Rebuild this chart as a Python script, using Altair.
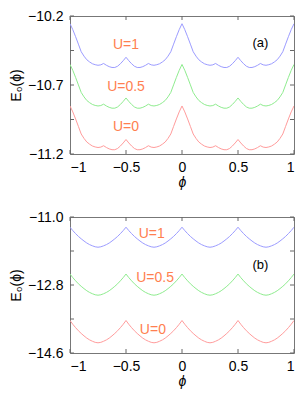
import altair as alt
import pandas as pd

# phi grid, step 0.025 from -1 to 1 (81 points)
phi = [round(-1 + 0.025 * i, 3) for i in range(81)]

# ---------- panel (a) values ----------
a_u1 = [-10.256, -10.299, -10.350, -10.404, -10.459, -10.491, -10.517, -10.533, -10.546, -10.553, -10.557,
        -10.554, -10.544, -10.557, -10.567, -10.573, -10.573, -10.564, -10.546, -10.524, -10.499,
        -10.524, -10.546, -10.564, -10.573, -10.573, -10.567, -10.557, -10.544, -10.554, -10.557,
        -10.553, -10.546, -10.533, -10.517, -10.491, -10.459, -10.404, -10.350, -10.299, -10.256,
        -10.299, -10.350, -10.404, -10.459, -10.491, -10.517, -10.533, -10.546, -10.553, -10.557,
        -10.554, -10.544, -10.557, -10.567, -10.573, -10.573, -10.564, -10.546, -10.524, -10.499,
        -10.524, -10.546, -10.564, -10.573, -10.573, -10.567, -10.557, -10.544, -10.554, -10.557,
        -10.553, -10.546, -10.533, -10.517, -10.491, -10.459, -10.404, -10.350, -10.299, -10.256]
a_u05 = [-10.551, -10.594, -10.645, -10.699, -10.754, -10.786, -10.812, -10.828, -10.841, -10.848, -10.852,
         -10.849, -10.839, -10.852, -10.862, -10.868, -10.868, -10.859, -10.841, -10.819, -10.794,
         -10.819, -10.841, -10.859, -10.868, -10.868, -10.862, -10.852, -10.839, -10.849, -10.852,
         -10.848, -10.841, -10.828, -10.812, -10.786, -10.754, -10.699, -10.645, -10.594, -10.551,
         -10.594, -10.645, -10.699, -10.754, -10.786, -10.812, -10.828, -10.841, -10.848, -10.852,
         -10.849, -10.839, -10.852, -10.862, -10.868, -10.868, -10.859, -10.841, -10.819, -10.794,
         -10.819, -10.841, -10.859, -10.868, -10.868, -10.862, -10.852, -10.839, -10.849, -10.852,
         -10.848, -10.841, -10.828, -10.812, -10.786, -10.754, -10.699, -10.645, -10.594, -10.551]
a_u0 = [-10.852, -10.895, -10.946, -11.000, -11.055, -11.087, -11.113, -11.129, -11.142, -11.149, -11.153,
        -11.150, -11.140, -11.153, -11.163, -11.169, -11.169, -11.160, -11.142, -11.120, -11.095,
        -11.120, -11.142, -11.160, -11.169, -11.169, -11.163, -11.153, -11.140, -11.150, -11.153,
        -11.149, -11.142, -11.129, -11.113, -11.087, -11.055, -11.000, -10.946, -10.895, -10.852,
        -10.895, -10.946, -11.000, -11.055, -11.087, -11.113, -11.129, -11.142, -11.149, -11.153,
        -11.150, -11.140, -11.153, -11.163, -11.169, -11.169, -11.160, -11.142, -11.120, -11.095,
        -11.120, -11.142, -11.160, -11.169, -11.169, -11.163, -11.153, -11.140, -11.150, -11.153,
        -11.149, -11.142, -11.129, -11.113, -11.087, -11.055, -11.000, -10.946, -10.895, -10.852]

# ---------- panel (b) values ----------
b_u1 = [-11.270, -11.360, -11.440, -11.514, -11.577, -11.636, -11.689, -11.731, -11.763, -11.789, -11.800,
        -11.789, -11.763, -11.731, -11.689, -11.636, -11.577, -11.514, -11.440, -11.360, -11.270,
        -11.360, -11.440, -11.514, -11.577, -11.636, -11.689, -11.731, -11.763, -11.789, -11.800,
        -11.789, -11.763, -11.731, -11.689, -11.636, -11.577, -11.514, -11.440, -11.360, -11.270,
        -11.360, -11.440, -11.514, -11.577, -11.636, -11.689, -11.731, -11.763, -11.789, -11.800,
        -11.789, -11.763, -11.731, -11.689, -11.636, -11.577, -11.514, -11.440, -11.360, -11.270,
        -11.360, -11.440, -11.514, -11.577, -11.636, -11.689, -11.731, -11.763, -11.789, -11.800,
        -11.789, -11.763, -11.731, -11.689, -11.636, -11.577, -11.514, -11.440, -11.360, -11.270]
b_u05 = [-12.510, -12.605, -12.689, -12.768, -12.835, -12.896, -12.952, -12.997, -13.031, -13.059, -13.070,
         -13.059, -13.031, -12.997, -12.952, -12.896, -12.835, -12.768, -12.689, -12.605, -12.510,
         -12.605, -12.689, -12.768, -12.835, -12.896, -12.952, -12.997, -13.031, -13.059, -13.070,
         -13.059, -13.031, -12.997, -12.952, -12.896, -12.835, -12.768, -12.689, -12.605, -12.510,
         -12.605, -12.689, -12.768, -12.835, -12.896, -12.952, -12.997, -13.031, -13.059, -13.070,
         -13.059, -13.031, -12.997, -12.952, -12.896, -12.835, -12.768, -12.689, -12.605, -12.510,
         -12.605, -12.689, -12.768, -12.835, -12.896, -12.952, -12.997, -13.031, -13.059, -13.070,
         -13.059, -13.031, -12.997, -12.952, -12.896, -12.835, -12.768, -12.689, -12.605, -12.510]
b_u0 = [-13.740, -13.840, -13.929, -14.011, -14.082, -14.147, -14.206, -14.253, -14.289, -14.318, -14.330,
        -14.318, -14.289, -14.253, -14.206, -14.147, -14.082, -14.011, -13.929, -13.840, -13.740,
        -13.840, -13.929, -14.011, -14.082, -14.147, -14.206, -14.253, -14.289, -14.318, -14.330,
        -14.318, -14.289, -14.253, -14.206, -14.147, -14.082, -14.011, -13.929, -13.840, -13.740,
        -13.840, -13.929, -14.011, -14.082, -14.147, -14.206, -14.253, -14.289, -14.318, -14.330,
        -14.318, -14.289, -14.253, -14.206, -14.147, -14.082, -14.011, -13.929, -13.840, -13.740,
        -13.840, -13.929, -14.011, -14.082, -14.147, -14.206, -14.253, -14.289, -14.318, -14.330,
        -14.318, -14.289, -14.253, -14.206, -14.147, -14.082, -14.011, -13.929, -13.840, -13.740]

series_names = ["U=1", "U=0.5", "U=0"]
series_colors = ["#9c9cff", "#8fec8f", "#ff9c9c"]

# curve labels and panel tags
a_label_text = ["U=1", "U=0.5", "U=0"]
a_label_x = [-0.5, -0.5, -0.5]
a_label_y = [-10.413, -10.714, -11.004]
b_label_text = ["U=1", "U=0.5", "U=0"]
b_label_x = [-0.27, -0.24, -0.26]
b_label_y = [-11.45, -12.614, -13.98]
a_tag = ["(a)"]
a_tag_x = [0.7]
a_tag_y = [-10.393]
b_tag = ["(b)"]
b_tag_x = [0.7]
b_tag_y = [-12.28]

x_ticks = [-1, -0.5, 0, 0.5, 1]
a_y_ticks = [-11.2, -10.95, -10.7, -10.45, -10.2]
a_y_labels = [-11.2, -10.7, -10.2]
b_y_ticks = [-14.6, -13.7, -12.8, -11.9, -11.0]
b_y_labels = [-14.6, -12.8, -11.0]

W, H_A, H_B = 224, 138, 136
FONT = "Liberation Sans"
LABEL_COLOR = "#ff7f50"
TICK = 4


def panel(values, y_dom, y_ticks, y_labels, lab_text, lab_x, lab_y, tag, tag_x, tag_y, height):
    rows = []
    for name, vals in zip(series_names, values):
        for p, v in zip(phi, vals):
            rows.append({"phi": p, "E": v, "series": name})
    df = pd.DataFrame(rows)

    xs = alt.Scale(domain=[-1, 1], nice=False, zero=False)
    ys = alt.Scale(domain=y_dom, nice=False, zero=False)

    lines = alt.Chart(df).mark_line(strokeWidth=1, clip=True).encode(
        x=alt.X("phi:Q", scale=xs, title="ϕ",
                axis=alt.Axis(values=x_ticks, ticks=False, domain=False, grid=False,
                              labelFont=FONT, labelFontSize=14, labelColor="#000",
                              labelPadding=6, titleFont=FONT, titleFontSize=14,
                              titleFontStyle="italic", titleFontWeight="normal",
                              titleColor="#000", titlePadding=1,
                              labelExpr="datum.value == 0 ? '0' : format(datum.value, '.1~f')")),
        y=alt.Y("E:Q", scale=ys, title="E₀(ϕ)",
                axis=alt.Axis(values=y_labels, ticks=False, domain=False, grid=False,
                              format=".1f", labelFont=FONT, labelFontSize=14,
                              labelColor="#000", labelPadding=7, titleFont=FONT,
                              titleFontSize=14, titleFontWeight="normal", titleColor="#000",
                              titleX=-50, titleY=height / 2, titleAngle=270,
                              titleAlign="center", titleBaseline="alphabetic")),
        color=alt.Color("series:N", scale=alt.Scale(domain=series_names, range=series_colors),
                        legend=None),
        detail="series:N",
    )

    ldf = pd.DataFrame({"t": lab_text, "x": lab_x, "y": lab_y})
    labels = alt.Chart(ldf).mark_text(font=FONT, fontSize=14, color=LABEL_COLOR,
                                      align="center", baseline="middle").encode(
        x=alt.X("x:Q", scale=xs), y=alt.Y("y:Q", scale=ys), text="t:N")

    tdf = pd.DataFrame({"t": tag, "x": tag_x, "y": tag_y})
    tags = alt.Chart(tdf).mark_text(font=FONT, fontSize=13, color="#000",
                                    align="center", baseline="middle").encode(
        x=alt.X("x:Q", scale=xs), y=alt.Y("y:Q", scale=ys), text="t:N")

    xt = pd.DataFrame({"v": x_ticks})
    yt = pd.DataFrame({"v": y_ticks})
    tick_style = dict(color="#666", strokeWidth=1)
    bottom = alt.Chart(xt).mark_rule(**tick_style).encode(
        x=alt.X("v:Q", scale=xs), y=alt.value(height), y2=alt.value(height - TICK))
    top = alt.Chart(xt).mark_rule(**tick_style).encode(
        x=alt.X("v:Q", scale=xs), y=alt.value(0), y2=alt.value(TICK))
    left = alt.Chart(yt).mark_rule(**tick_style).encode(
        y=alt.Y("v:Q", scale=ys), x=alt.value(0), x2=alt.value(TICK))
    right = alt.Chart(yt).mark_rule(**tick_style).encode(
        y=alt.Y("v:Q", scale=ys), x=alt.value(W), x2=alt.value(W - TICK))

    return alt.layer(lines, labels, tags, bottom, top, left, right).properties(
        width=W, height=height)


pa = panel([a_u1, a_u05, a_u0], [-11.2, -10.2], a_y_ticks, a_y_labels,
           a_label_text, a_label_x, a_label_y, a_tag, a_tag_x, a_tag_y, H_A)
pb = panel([b_u1, b_u05, b_u0], [-14.6, -11.0], b_y_ticks, b_y_labels,
           b_label_text, b_label_x, b_label_y, b_tag, b_tag_x, b_tag_y, H_B)

chart = alt.vconcat(pa, pb, spacing=19).properties(
    padding={"left": 0, "top": 0, "right": 0, "bottom": 0},
    background="white",
).configure_view(stroke="#777", strokeWidth=1)

chart.save("out.html", embed_options={"renderer": "svg", "actions": False})
